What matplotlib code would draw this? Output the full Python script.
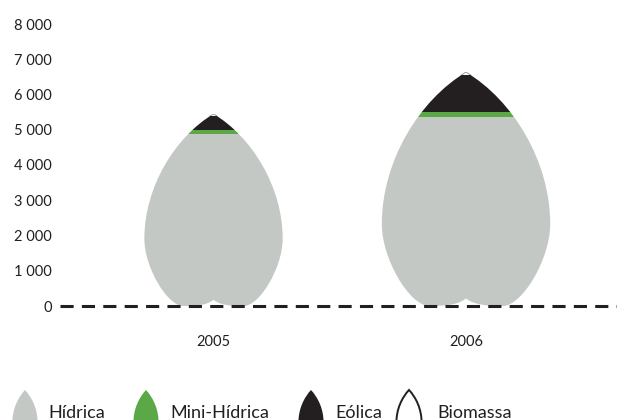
import numpy as np
import matplotlib.pyplot as plt
from matplotlib.path import Path
from matplotlib.patches import PathPatch

plt.rcParams['font.family'] = ['Lato', 'DejaVu Sans']

years = ['2005', '2006']
hidrica = [4880, 5370]
mini_hidrica = [115, 140]
eolica = [405, 1040]
biomassa = [50, 85]

labels = ['Hídrica', 'Mini-Hídrica', 'Eólica', 'Biomassa']
values = [hidrica, mini_hidrica, eolica, biomassa]
colors = ['#c4c8c5', '#5aa846', '#231f20', '#ffffff']

yticks = [0, 1000, 2000, 3000, 4000, 5000, 6000, 7000, 8000]

# right half of a drop (half-width relative to height, tip at y=1), cubic beziers
DROP = [(0.0, 1.0),
        (0.20, 0.88), (0.36, 0.62), (0.36, 0.35),
        (0.36, 0.20), (0.24, 0.0), (0.157, 0.0),
        (0.09, 0.0), (0.03, 0.005), (0.0, 0.033)]
ICON = [(0.0, 1.0),
        (0.20, 0.85), (0.36, 0.62), (0.36, 0.35),
        (0.36, 0.12), (0.22, 0.0), (0.0, 0.0)]


def drop_path(half, cx, base, h, sx):
    left = [(-x, y) for x, y in half[::-1]][1:]
    pts = np.array(half + left + [half[0]], dtype=float)
    pts[:, 0] = cx + pts[:, 0] * h * sx
    pts[:, 1] = base + pts[:, 1] * h
    codes = [Path.MOVETO] + [Path.CURVE4] * (len(pts) - 2) + [Path.CLOSEPOLY]
    return Path(pts, codes)


fig = plt.figure(figsize=(6.17, 4.2), dpi=100)
ax = fig.add_axes([60 / 617, 114 / 420, 557 / 617, 282 / 420])
x = np.arange(len(years))
ax.set_xlim(-0.608, 1.598)
ax.set_ylim(0, 8000)

# ratio between y units and x units on screen, so the drops keep their shape
p0 = ax.transData.transform((0, 0))
p1 = ax.transData.transform((1, 1000))
sx = ((p1[1] - p0[1]) / 1000) / (p1[0] - p0[0])

totals = np.sum(values, axis=0)
drops = []
for i in x:
    d = PathPatch(drop_path(DROP, i, 0, totals[i], sx), transform=ax.transData,
                  fc='none', ec='none')
    ax.add_patch(d)
    drops.append(d)

bottom = np.zeros(len(years))
bio_bars = None
for lab, vals, c in zip(labels, values, colors):
    bars = ax.bar(x, vals, bottom=bottom, width=0.9, color=c, linewidth=0, zorder=2)
    for i, b in enumerate(bars):
        b.set_clip_path(drops[i])
    bottom += vals
    bio_bars = bars

# thin outline around the white biomass tip
for i in x:
    o = PathPatch(drop_path(DROP, i, 0, totals[i], sx), transform=ax.transData,
                  fc='none', ec='#9a9a9a', lw=0.7, zorder=3)
    ax.add_patch(o)
    o.set_clip_path(bio_bars[i])

ax.axhline(0, color='#231f20', lw=2.2, linestyle=(0, (4.3, 2.7)), zorder=4, clip_on=False)

ax.set_xticks(x)
ax.set_xticklabels(years)
ax.set_yticks(yticks)
ax.set_yticklabels(['{:,}'.format(v).replace(',', ' ') for v in yticks])
ax.tick_params(axis='both', length=0, labelsize=10.5, colors='#231f20')
ax.tick_params(axis='x', pad=21)
ax.tick_params(axis='y', pad=6)
for s in ax.spines.values():
    s.set_visible(False)

# legend row drawn in pixel units
lax = fig.add_axes([0, 0, 1, 1])
lax.set_xlim(0, 617)
lax.set_ylim(420, 0)
lax.axis('off')
icon_x = [25, 146, 311, 409]
text_x = [48, 170, 335, 437]
for lab, c, ix, tx in zip(labels, colors, icon_x, text_x):
    edge = '#231f20' if c == '#ffffff' else 'none'
    lax.add_patch(PathPatch(drop_path(ICON, ix, 440, -50, 0.7), fc=c, ec=edge, lw=1.4))
    lax.text(tx, 418, lab, fontsize=13, color='#231f20', va='baseline', ha='left')

fig.savefig('out.png', dpi=100)
